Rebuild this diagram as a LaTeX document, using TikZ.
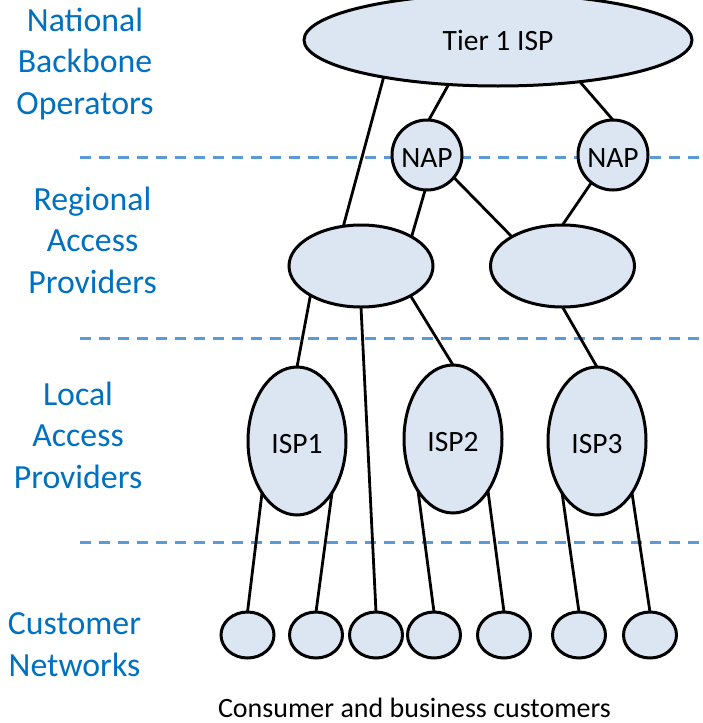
\documentclass[tikz,border=0pt]{standalone}
\usepackage{fontspec}
\setmainfont{Carlito}
\usetikzlibrary{shapes.geometric}
\definecolor{nodefill}{HTML}{DCE6F2}
\definecolor{layerblue}{HTML}{0070C0}
\definecolor{dashblue}{HTML}{5B9BD5}

\begin{document}
\begin{tikzpicture}[x=1pt,y=-1pt,
  netnode/.style={ellipse, draw=black, line width=3pt, fill=nodefill,
    inner sep=0pt, outer sep=0pt, font=\fontsize{29.5}{35}\selectfont},
  lowtext/.style={text height=25pt, text depth=0pt},
  link/.style={draw=black, line width=2.8pt},
  layerline/.style={draw=dashblue, line width=3pt, dash pattern=on 11pt off 8pt},
  layerlabel/.style={text=layerblue, align=center, anchor=base,
    font=\fontsize{33.8}{41.5}\selectfont},
]
\useasboundingbox (0,0) rectangle (702,723);
\clip (0,0) rectangle (702,723);

% layer separators
\coordinate (s1a) at (80,157.3);  \coordinate (s1b) at (702,157.3);
\coordinate (s2a) at (80,338.3);  \coordinate (s2b) at (702,338.3);
\coordinate (s3a) at (80,542.7);  \coordinate (s3b) at (702,542.7);
\draw[layerline] (s1a) -- (s1b);
\draw[layerline] (s2a) -- (s2b);
\draw[layerline] (s3a) -- (s3b);

% layer names (anchored at the baseline of the last line)
\node[layerlabel] (lnat) at (85,114)   {National\\Backbone\\Operators};
\node[layerlabel] (lreg) at (92.5,293) {Regional\\Access\\Providers};
\node[layerlabel] (lloc) at (78,488)   {Local\\Access\\Providers};
\node[layerlabel] (lcus) at (74.5,676) {Customer\\Networks};

% backbone
\node[netnode, minimum width=388pt, minimum height=92pt] (tier) at (498,40) {Tier 1 ISP};
\node[netnode, circle, lowtext, minimum size=70pt] (nap1) at (427,155) {NAP};
\node[netnode, circle, lowtext, minimum size=70pt] (nap2) at (613,155) {NAP};

% regional providers
\node[netnode, minimum width=144pt, minimum height=82pt] (regL) at (361,266) {};
\node[netnode, minimum width=144pt, minimum height=82pt] (regR) at (562.5,266) {};

% local providers
\node[netnode, lowtext, minimum width=98pt, minimum height=148pt] (isp1) at (297,441) {ISP1};
\node[netnode, lowtext, minimum width=98pt, minimum height=148pt] (isp2) at (453,439) {ISP2};
\node[netnode, lowtext, minimum width=98pt, minimum height=148pt] (isp3) at (597,441) {ISP3};

% customer networks
\foreach \n/\x in {c1/247.5, c2/316, c3/376, c4/434, c5/504, c6/579, c7/650}
  \node[netnode, minimum width=53pt, minimum height=46pt] (\n) at (\x,635) {};

\node[anchor=base, font=\fontsize{28}{34}\selectfont] (cust) at (414.5,717)
  {Consumer and business customers};

% links
\draw[link] (tier.198.6) -- (regL.114.9);
\draw[link] (tier.222) -- (nap1.87);
\draw[link] (tier.333) -- (nap2.north);
\draw[link] (nap1.267) -- (regL.30);
\draw[link] (nap1.320.6) -- (regR.150.6);
\draw[link] (nap2.232.5) -- (regR.north);
\draw[link] (regL.210.8) -- (isp1.north);
\draw[link] (regL.south) -- (c3.north);
\draw[link] (regL.329.2) -- (isp2.north);
\draw[link] (regR.south) -- (isp3.north);
\draw[link] (isp1.236) -- (c1.north);
\draw[link] (isp1.304.7) -- (c2.north);
\draw[link] (isp2.236.6) -- (c4.north);
\draw[link] (isp2.304.5) -- (c5.north);
\draw[link] (isp3.236) -- (c6.north);
\draw[link] (isp3.304.7) -- (c7.north);
\end{tikzpicture}
\end{document}
